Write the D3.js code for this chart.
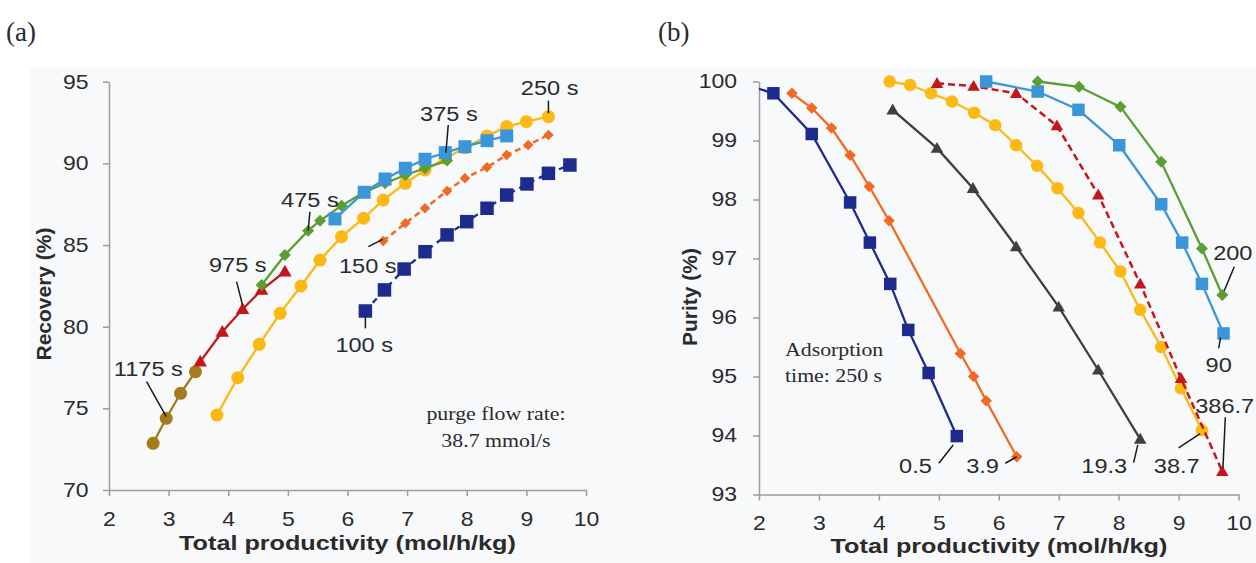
<!DOCTYPE html>
<html>
<head>
<meta charset="utf-8">
<script src="https://cdn.jsdelivr.net/npm/d3@7"></script>
<style>
  html, body { margin: 0; padding: 0; background: #fff; }
  svg { display: block; }
</style>
</head>
<body>
<svg id="chart" width="1256" height="563"></svg>
<script>
// ---------- data ----------
const xTicks = [2, 3, 4, 5, 6, 7, 8, 9, 10];
const recoveryTicks = [70, 75, 80, 85, 90, 95];
const purityTicks = [93, 94, 95, 96, 97, 98, 99, 100];

// (a) recovery (%) vs total productivity, one curve per adsorption time
const rec100s = [[6.30, 80.96], [6.62, 82.25], [6.95, 83.53], [7.30, 84.59], [7.67, 85.62], [8.00, 86.43],
  [8.34, 87.25], [8.67, 88.06], [9.01, 88.74], [9.37, 89.39], [9.73, 89.90]];
const rec150s = [[6.60, 85.25], [6.97, 86.33], [7.30, 87.25], [7.67, 88.31], [7.97, 89.09], [8.34, 89.76],
  [8.67, 90.51], [9.03, 91.13], [9.37, 91.74]];
const rec250s = [[3.81, 74.59], [4.16, 76.88], [4.52, 78.92], [4.87, 80.82], [5.22, 82.49], [5.54, 84.08],
  [5.90, 85.51], [6.27, 86.64], [6.60, 87.76], [6.97, 88.78], [7.30, 89.60], [7.64, 90.30], [7.97, 90.95],
  [8.34, 91.68], [8.67, 92.25], [9.00, 92.55], [9.37, 92.86]];
const rec375s = [[5.79, 86.60], [6.28, 88.23], [6.63, 89.04], [6.97, 89.70], [7.30, 90.25], [7.64, 90.66],
  [7.97, 91.02], [8.34, 91.39], [8.67, 91.68]];
const rec475s = [[4.56, 82.55], [4.95, 84.39], [5.34, 85.88], [5.54, 86.49], [5.90, 87.41], [6.27, 88.21],
  [6.63, 88.78], [6.97, 89.29], [7.30, 89.70], [7.67, 90.17]];
const rec975s = [[3.53, 77.86], [3.90, 79.69], [4.24, 81.07], [4.56, 82.25], [4.95, 83.37]];
const rec1175s = [[2.74, 72.86], [2.96, 74.39], [3.20, 75.92], [3.45, 77.24]];

// (b) purity (%) vs total productivity, one curve per purge flow rate (mmol/s)
const pur0p5 = [[1.60, 100.0], [2.24, 99.80], [2.88, 99.11], [3.52, 97.95], [3.85, 97.27], [4.19, 96.57],
  [4.49, 95.79], [4.83, 95.06], [5.30, 93.99]];
const pur3p9 = [[2.55, 99.80], [2.88, 99.55], [3.21, 99.21], [3.52, 98.75], [3.84, 98.22], [4.17, 97.64],
  [5.36, 95.39], [5.58, 95.00], [5.79, 94.59], [6.30, 93.64]];
const pur19p3 = [[4.23, 99.52], [4.97, 98.87], [5.57, 98.19], [6.29, 97.20], [7.00, 96.18], [7.66, 95.11],
  [8.36, 93.94]];
const pur38p7 = [[4.18, 100.0], [4.52, 99.94], [4.87, 99.80], [5.22, 99.66], [5.59, 99.47], [5.94, 99.26],
  [6.29, 98.92], [6.64, 98.57], [6.98, 98.19], [7.33, 97.77], [7.69, 97.27], [8.03, 96.78], [8.36, 96.13],
  [8.71, 95.50], [9.04, 94.80], [9.39, 94.09]];
const pur386p7 = [[4.97, 99.97], [5.58, 99.92], [6.29, 99.80], [6.97, 99.25], [7.66, 98.08], [8.36, 96.57],
  [9.04, 94.97], [9.73, 93.39]];
const pur90 = [[5.79, 100.0], [6.65, 99.83], [7.33, 99.52], [8.01, 98.92], [8.71, 97.92], [9.06, 97.27],
  [9.39, 96.57], [9.75, 95.73]];
const pur200 = [[6.65, 100.0], [7.34, 99.91], [8.03, 99.57], [8.71, 98.64], [9.39, 97.17], [9.73, 96.38]];

// curve labels with leader lines (data units)
const recoveryNotes = [
  { text: '250 s', at: [9.39, 94.19], line: [[9.37, 93.84], [9.37, 93.07]] },
  { text: '375 s', at: [7.70, 92.57], line: [[7.69, 92.35], [7.65, 90.65]] },
  { text: '475 s', at: [5.37, 87.30], line: [[5.37, 87.04], [5.34, 85.88]] },
  { text: '975 s', at: [4.16, 83.32], line: [[4.14, 82.76], [4.24, 81.33]] },
  { text: '150 s', at: [6.34, 83.29], line: [[6.35, 84.90], [6.59, 85.35]] },
  { text: '100 s', at: [6.28, 78.48], line: [[6.30, 80.61], [6.30, 79.90]] },
  { text: '1175 s', at: [2.66, 77.01], line: [[2.63, 76.63], [2.96, 74.49]] }
];
const purityNotes = [
  { text: '200', at: [9.905, 96.97], line: [[9.93, 96.86], [9.76, 96.45]] },
  { text: '90', at: [9.67, 95.07], line: [[9.70, 95.66], [9.67, 95.48]] },
  { text: '386.7', at: [9.77, 94.38], line: [[9.78, 94.31], [9.74, 93.45]] },
  { text: '38.7', at: [8.97, 93.36], line: [[9.00, 93.79], [9.36, 94.03]] },
  { text: '19.3', at: [7.76, 93.36], line: [[8.25, 93.54], [8.32, 93.84]] },
  { text: '3.9', at: [5.73, 93.36], line: [[6.11, 93.53], [6.30, 93.64]] },
  { text: '0.5', at: [4.61, 93.36], line: [[5.00, 93.53], [5.24, 93.84]] }
];
const recoveryCaption = ['purge flow rate:', '38.7 mmol/s'];
const purityCaption = ['Adsorption', 'time: 250 s'];

// ---------- styling ----------
const SANS = '"Liberation Sans", Arial, sans-serif';
const SERIF = '"Liberation Serif", "Times New Roman", serif';
const INK = '#2b2b2b';
const AXIS = '#9d9d9d';
const SX = 1.15; // the figure's text is a bit wide

const svg = d3.select('#chart');
svg.append('rect').attr('width', 1256).attr('height', 563).attr('fill', '#fff');
svg.append('rect').attr('x', 30).attr('y', 68).attr('width', 1226).attr('height', 495).attr('fill', '#f8f9fb');

function label(g, x, y, str, o = {}) {
  return g.append('text')
    .attr('transform', `translate(${x},${y}) scale(${o.sx || SX},1)`)
    .attr('text-anchor', o.anchor || 'middle')
    .style('font-family', o.family || SANS)
    .style('font-size', (o.size || 20) + 'px')
    .style('font-weight', o.weight || 'normal')
    .style('fill', INK)
    .text(str);
}

function symbolPath(type, size) {
  if (type === 'square') return d3.symbol(d3.symbolSquare, size * size)();
  if (type === 'circle') return d3.symbol(d3.symbolCircle, Math.PI * size * size / 4)();
  if (type === 'diamond') return d3.symbol(d3.symbolSquare, size * size / 2)();
  return d3.symbol(d3.symbolTriangle, Math.sqrt(3) / 4 * size * size)();
}

function drawSeries(g, x, y, s) {
  const line = d3.line().x(d => x(d[0])).y(d => y(d[1]));
  g.append('path')
    .datum(s.data)
    .attr('d', line)
    .attr('fill', 'none')
    .attr('stroke', s.color)
    .attr('stroke-width', s.width || 2.3)
    .attr('stroke-dasharray', s.dash || null);
  const p = symbolPath(s.marker, s.size);
  g.selectAll(null)
    .data(s.data)
    .enter().append('path')
    .attr('d', p)
    .attr('transform', d => `translate(${x(d[0])},${y(d[1])})` +
      (s.marker === 'diamond' ? ' rotate(45)' : s.marker === 'triangle' ? ' translate(0,1)' : ''))
    .attr('fill', s.color);
}

function drawAxes(g, x, y, yTicks, xOff, yOff) {
  const y0 = y.range()[0];
  const x0 = x.range()[0];
  const xa = g.append('g')
    .attr('transform', `translate(0,${y0})`)
    .call(d3.axisBottom(x).tickValues(xTicks).tickSize(6).tickSizeOuter(0).tickFormat(d3.format('d')));
  xa.selectAll('text')
    .attr('y', null)
    .attr('transform', `translate(0,${xOff}) scale(${SX},1)`);

  const ya = g.append('g')
    .attr('transform', `translate(${x0},0)`)
    .call(d3.axisLeft(y).tickValues(yTicks).tickSize(6).tickSizeOuter(0).tickFormat(d3.format('d')));
  ya.selectAll('text')
    .attr('x', null)
    .attr('transform', `translate(${-yOff},0) scale(${SX},1)`);

  [xa, ya].forEach(a => {
    a.select('.domain').attr('stroke', AXIS).attr('stroke-width', 1.5);
    a.selectAll('.tick line').attr('stroke', AXIS).attr('stroke-width', 1.5);
    a.selectAll('text')
      .style('font-family', SANS)
      .style('font-size', '20px')
      .style('fill', INK);
  });
}

function drawNotes(g, x, y, notes) {
  notes.forEach(n => {
    g.append('line')
      .attr('x1', x(n.line[0][0])).attr('y1', y(n.line[0][1]))
      .attr('x2', x(n.line[1][0])).attr('y2', y(n.line[1][1]))
      .attr('stroke', '#1a1a1a').attr('stroke-width', 1.5);
    label(g, x(n.at[0]), y(n.at[1]), n.text, { size: 20.5 });
  });
}

// ---------- panel (a) ----------
const ga = svg.append('g');
const xa = d3.scaleLinear().domain([2, 10]).range([109, 586]);
const ya = d3.scaleLinear().domain([70, 95]).range([490, 81.7]);

label(ga, 6, 41, '(a)', { family: SERIF, size: 27, anchor: 'start', sx: 1.0 });
drawAxes(ga, xa, ya, recoveryTicks, 22, 20.5);

[
  { data: rec250s, color: '#fdb913', marker: 'circle', size: 13 },
  { data: rec1175s, color: '#a67c1b', marker: 'circle', size: 13 },
  { data: rec975s, color: '#c4161c', marker: 'triangle', size: 13.5 },
  { data: rec475s, color: '#5b9f32', marker: 'diamond', size: 12 },
  { data: rec375s, color: '#3b96d9', marker: 'square', size: 13 },
  { data: rec150s, color: '#f26a21', marker: 'diamond', size: 10.5, dash: '6,4', width: 2.5 },
  { data: rec100s, color: '#1c2b8d', marker: 'square', size: 13.5, dash: '6,5' }
].forEach(s => drawSeries(ga, xa, ya, s));

drawNotes(ga, xa, ya, recoveryNotes);
label(ga, xa(8.49), ya(74.29), recoveryCaption[0], { family: SERIF, size: 19 });
label(ga, xa(8.49), ya(72.63), recoveryCaption[1], { family: SERIF, size: 19 });

label(ga, 347.5, 550, 'Total productivity (mol/h/kg)', { size: 21, weight: 'bold', sx: 1.2 });
ga.append('text')
  .attr('transform', 'translate(51,294) rotate(-90)')
  .attr('text-anchor', 'middle')
  .style('font-family', SANS).style('font-size', '21px').style('font-weight', 'bold')
  .style('fill', INK)
  .text('Recovery (%)');

// ---------- panel (b) ----------
const gb = svg.append('g');
const xb = d3.scaleLinear().domain([2, 10]).range([759, 1238.5]);
const yb = d3.scaleLinear().domain([93, 100]).range([494.5, 81.5]);

svg.append('clipPath').attr('id', 'clipB')
  .append('rect').attr('x', 759).attr('y', 60).attr('width', 497).attr('height', 460);

label(gb, 658, 41, '(b)', { family: SERIF, size: 27, anchor: 'start', sx: 1.0 });
drawAxes(gb, xb, yb, purityTicks, 21.5, 22);

const plotB = gb.append('g').attr('clip-path', 'url(#clipB)');
[
  { data: pur0p5, color: '#1c2b8d', marker: 'square', size: 12.5 },
  { data: pur3p9, color: '#f26a21', marker: 'diamond', size: 11.5 },
  { data: pur19p3, color: '#3f3f3f', marker: 'triangle', size: 12.5 },
  { data: pur38p7, color: '#fdb913', marker: 'circle', size: 12.5 },
  { data: pur386p7, color: '#c4161c', marker: 'triangle', size: 12.5, dash: '7,4', width: 2.5 },
  { data: pur90, color: '#3b96d9', marker: 'square', size: 12.5 },
  { data: pur200, color: '#5b9f32', marker: 'diamond', size: 12 }
].forEach(s => drawSeries(plotB, xb, yb, s));

drawNotes(gb, xb, yb, purityNotes);
label(gb, xb(2.434), yb(95.35), purityCaption[0], { family: SERIF, size: 19.5, anchor: 'start', sx: 1.12 });
label(gb, xb(2.434), yb(94.91), purityCaption[1], { family: SERIF, size: 19.5, anchor: 'start', sx: 1.12 });

label(gb, 999, 553, 'Total productivity (mol/h/kg)', { size: 21, weight: 'bold', sx: 1.2 });
gb.append('text')
  .attr('transform', 'translate(697,297) rotate(-90)')
  .attr('text-anchor', 'middle')
  .style('font-family', SANS).style('font-size', '21px').style('font-weight', 'bold')
  .style('fill', INK)
  .text('Purity (%)');
</script>
</body>
</html>
